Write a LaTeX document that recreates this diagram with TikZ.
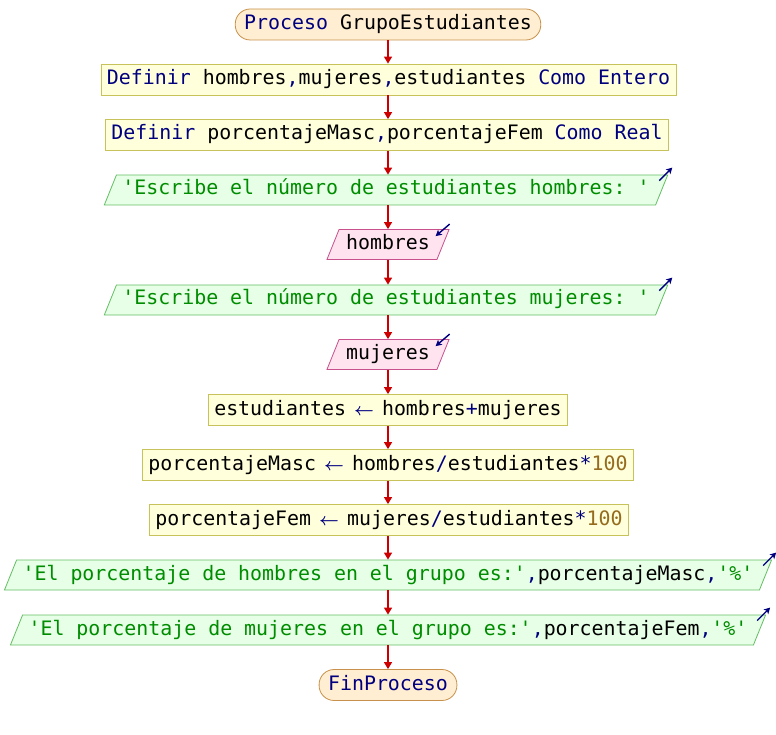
\documentclass[tikz,border=0pt]{standalone}
\usepackage{fontspec}
\setmonofont{DejaVu Sans Mono}
\usetikzlibrary{shapes.geometric,arrows.meta}
\definecolor{kw}{HTML}{00007F}
\definecolor{str}{HTML}{008C00}
\definecolor{num}{HTML}{956B1E}
\definecolor{termf}{HTML}{FFEED2}
\definecolor{termb}{HTML}{C8914B}
\definecolor{procf}{HTML}{FFFFDC}
\definecolor{procb}{HTML}{C8C25A}
\definecolor{outf}{HTML}{E6FFE6}
\definecolor{outb}{HTML}{64BE64}
\definecolor{inpf}{HTML}{FFE3EE}
\definecolor{inpb}{HTML}{C8508C}
\definecolor{flowc}{HTML}{CC0000}
\newcommand{\asg}{{\color{kw}\makebox[12pt]{\fontsize{17}{20}\selectfont$\boldsymbol{\leftarrow}$}}}
\tikzset{
  base/.style={font=\ttfamily\fontsize{19.9}{24}\selectfont, text height=15pt, text depth=5pt,
    inner ysep=5pt, inner xsep=6pt, line width=0.8pt},
  term/.style={base, rectangle, rounded corners=15pt, draw=termb, fill=termf, inner xsep=9pt, inner ysep=5.5pt},
  proc/.style={base, rectangle, draw=procb, fill=procf, inner ysep=5.5pt},
  outp/.style={base, trapezium, trapezium left angle=68, trapezium right angle=112, draw=outb, fill=outf},
  inp/.style={base, trapezium, trapezium left angle=68, trapezium right angle=112, draw=inpb, fill=inpf, inner xsep=7pt},
  flow/.style={draw=flowc, line width=1.4pt, -{Triangle[length=7pt,width=8pt]}},
  io/.style={draw=kw, line width=1.4pt, -{Stealth[length=6pt,width=6.5pt,inset=1.5pt]}}
}
\usepackage{amsmath}
\begin{document}
\begin{tikzpicture}[x=1pt,y=-1pt]
\useasboundingbox (0,0) rectangle (776,735);
\coordinate (axis) at (388,0);
\node[term] (n1) at (388,24.5) {{\color{kw}Proceso} GrupoEstudiantes};
\node[proc] (n2) at (388.5,79.5) {{\color{kw}Definir} hombres{\color{kw},}mujeres{\color{kw},}estudiantes {\color{kw}Como Entero}};
\node[proc] (n3) at (387,135) {{\color{kw}Definir} porcentajeMasc{\color{kw},}porcentajeFem {\color{kw}Como Real}};
\node[outp] (n4) at (386,190) {\color{str}'Escribe el número de estudiantes hombres: '};
\node[inp] (n5) at (388,244.5) {hombres};
\node[outp] (n6) at (386,300) {\color{str}'Escribe el número de estudiantes mujeres: '};
\node[inp] (n7) at (388,354.5) {mujeres};
\node[proc] (n8) at (388,410) {estudiantes \asg{} hombres{\color{kw}+}mujeres};
\node[proc] (n9) at (388,465) {porcentajeMasc \asg{} hombres{\color{kw}/}estudiantes{\color{kw}*}{\color{num}100}};
\node[proc] (n10) at (389,520) {porcentajeFem \asg{} mujeres{\color{kw}/}estudiantes{\color{kw}*}{\color{num}100}};
\node[outp] (n11) at (388,575) {{\color{str}'El porcentaje de hombres en el grupo es:'}{\color{kw},}porcentajeMasc{\color{kw},}{\color{str}'\%'}};
\node[outp] (n12) at (388,630) {{\color{str}'El porcentaje de mujeres en el grupo es:'}{\color{kw},}porcentajeFem{\color{kw},}{\color{str}'\%'}};
\node[term] (n13) at (388,685) {\color{kw}FinProceso};
\foreach \a/\b in {n1/n2,n2/n3,n3/n4,n4/n5,n5/n6,n6/n7,n7/n8,n8/n9,n9/n10,n10/n11,n11/n12,n12/n13}
  \draw[flow] (\a.south -| axis) -- (\b.north -| axis);
\foreach \n in {n4,n6,n11,n12}
  \draw[io] ([xshift=-9pt,yshift=-6pt]\n.top right corner) -- ([xshift=4pt,yshift=7pt]\n.top right corner);
\foreach \n in {n5,n7}
  \draw[io] ([xshift=0pt,yshift=5pt]\n.top right corner) -- ([xshift=-14pt,yshift=-7pt]\n.top right corner);
\end{tikzpicture}
\end{document}
